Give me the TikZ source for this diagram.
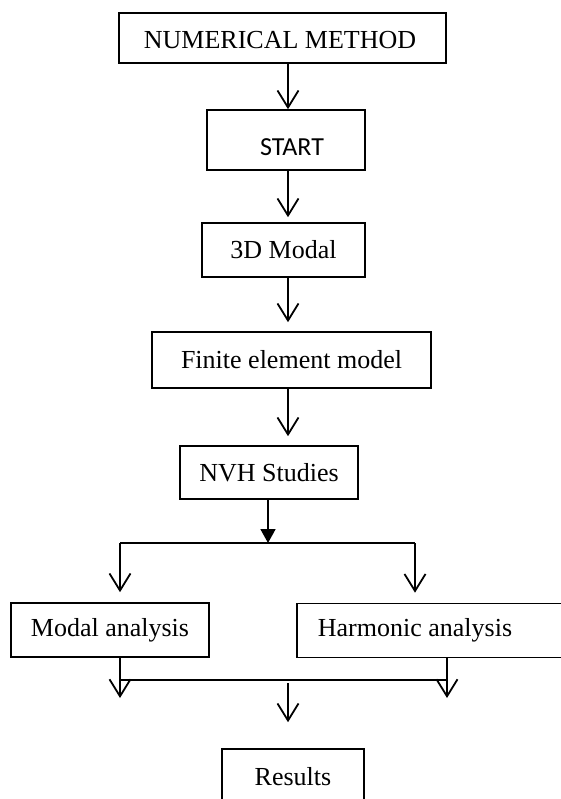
\documentclass[tikz,border=0pt]{standalone}
\usepackage{fontspec}
\setmainfont{Liberation Serif}
\newfontfamily\startfont{Carlito}
\usetikzlibrary{arrows.meta}
\begin{document}
\begin{tikzpicture}[x=1pt,y=-1pt,
  box/.style={draw,line width=1.6pt,inner sep=0pt,font=\fontsize{26}{30}\selectfont},
  txt/.style={inner sep=0pt,font=\fontsize{26}{30}\selectfont},
  arr/.style={line width=1.8pt,-{Straight Barb[length=17pt,width=21pt,line width=1.8pt]}},
  farr/.style={line width=1.8pt,-{Triangle[length=14pt,width=15pt]}},
  ln/.style={line width=1.6pt}]
\useasboundingbox (0,0) rectangle (561,799);
\coordinate (ax) at (288,0);
\node[box,minimum width=327pt,minimum height=50pt] (num) at (282.5,38) {};
\node[txt] (numtext) at (280,40) {NUMERICAL METHOD};
\node[box,minimum width=158pt,minimum height=60pt] (start) at (286,140) {};
\node[txt] (starttext) at (292,147) {\startfont START};
\node[box,minimum width=163pt,minimum height=54pt] (m3d) at (283.5,250) {3D Modal};
\node[box,minimum width=279pt,minimum height=56pt] (fem) at (291.5,360) {Finite element model};
\node[box,minimum width=178pt,minimum height=53pt] (nvh) at (269,472.5) {NVH Studies};
\node[box,minimum width=198pt,minimum height=54pt] (modal) at (110,630) {Modal analysis};
\node[box,minimum width=266pt,minimum height=54pt] (harm) at (430,630.5) {};
\node[txt] (harmtext) at (415,630) {Harmonic analysis};
\node[box,minimum width=142pt,minimum height=56pt] (res) at (293,777) {Results};
% vertical chain
\draw[arr] (num.south -| ax) -- (start.north -| ax);
\draw[arr,shorten >=5pt] (start.south -| ax) -- (m3d.north -| ax);
\draw[arr,shorten >=9pt] (m3d.south -| ax) -- (fem.north -| ax);
\draw[arr,shorten >=9pt] (fem.south -| ax) -- (nvh.north -| ax);
% split
\coordinate (split) at (268,543);
\coordinate (jl) at (120,543);
\coordinate (jr) at (415,543);
\draw[farr] (nvh.south -| split) -- (split);
\draw[ln] (jl) -- (jr);
\draw[arr,shorten >=10pt] (jl) -- (modal.north -| jl);
\draw[arr,shorten >=10pt] (jr) -- (harm.north -| jr);
% join
\coordinate (joinL) at (120,680);
\coordinate (joinR) at (447,680);
\coordinate (ml) at (120,698);
\coordinate (mr) at (447,698);
\coordinate (mtop) at (288,683);
\draw[arr] (modal.south -| ml) -- (ml);
\draw[arr] (harm.south -| mr) -- (mr);
\draw[ln] (joinL) -- (joinR);
\draw[arr,shorten >=26pt] (mtop) -- (res.north -| mtop);
\end{tikzpicture}
\end{document}
